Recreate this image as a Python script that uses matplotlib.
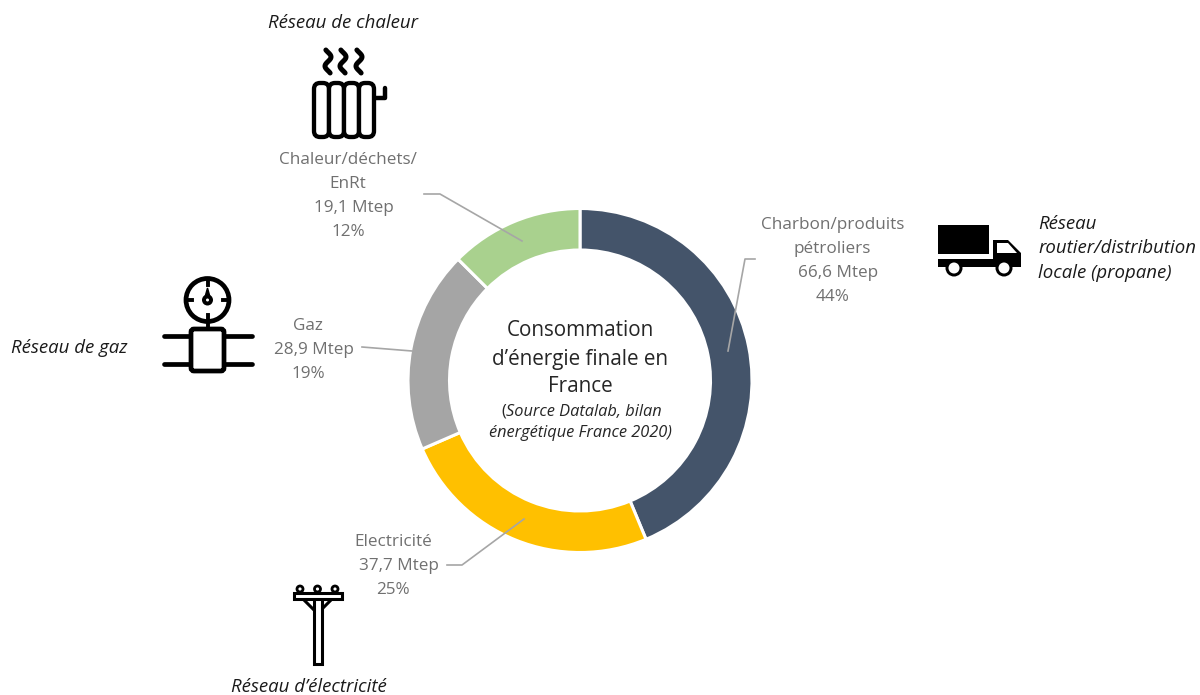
#!/usr/bin/env python3
"""
donut of final energy consumption in France, with one network icon per source
"""

import matplotlib
matplotlib.use("Agg")
import matplotlib.pyplot as plt
import numpy as np
from matplotlib.patches import Circle, Polygon, Rectangle, FancyBboxPatch

sources = ["Charbon/produits\npétroliers", "Electricité", "Gaz", "Chaleur/déchets/\nEnRt"]
mtep = [66.6, 37.7, 28.9, 19.1]
mtep_labels = ["66,6 Mtep", "37,7 Mtep", "28,9 Mtep", "19,1 Mtep"]
shares = ["44%", "25%", "19%", "12%"]
colors = ["#44546A", "#FFC000", "#A5A5A5", "#A9D18E"]

WIDTH, HEIGHT = 1200, 695
INK = "black"

plt.rcParams["font.family"] = ["Open Sans", "DejaVu Sans"]


def rounded(ax, x0, y0, x1, y1, r, lw=3.5, fc="white", z=3):
    ax.add_patch(FancyBboxPatch((x0 + r, y0 + r), x1 - x0 - 2*r, y1 - y0 - 2*r,
                                boxstyle=f"round,pad={r},rounding_size={r}",
                                fc=fc, ec=INK, lw=lw, zorder=z))


def draw_radiator(ax):
    # steam
    t = np.linspace(0, 1, 40)
    for x in (328, 343, 359):
        ax.plot(x + 3*np.sin(t*2.5*np.pi - .25*np.pi), 50 + t*23, color=INK, lw=3.6,
                solid_capstyle="round")
    # pipe stub
    ax.plot([372, 385, 385], [98, 98, 88], color=INK, lw=3.2, solid_joinstyle="round",
            solid_capstyle="round")
    # fins
    for x in (314, 329, 344, 359):
        rounded(ax, x, 83, x + 15, 137, 6, lw=3.1)


def draw_gauge(ax):
    ax.add_patch(Circle((207.5, 300), 21.5, fc="white", ec=INK, lw=3.4))
    for x0, y0, x1, y1 in [(207.5, 279, 207.5, 285), (207.5, 315, 207.5, 328),
                           (186, 300, 192, 300), (223, 300, 229, 300)]:
        ax.plot([x0, x1], [y0, y1], color=INK, lw=2.8)
    ax.add_patch(Circle((207.5, 300), 5.5, fc=INK, ec="none", zorder=3))
    ax.add_patch(Polygon([(205, 297), (207.5, 288), (210, 297)], fc=INK, ec=INK, lw=1, zorder=3))
    ax.add_patch(Circle((207.5, 300), 1.5, fc="white", ec="none", zorder=4))
    for y in (336, 364):
        ax.plot([164, 252], [y, y], color=INK, lw=3.4, solid_capstyle="round")
    rounded(ax, 191, 329, 224, 371, 3, lw=3.4)


def draw_truck(ax):
    ax.add_patch(Rectangle((938, 225), 51, 29, fc=INK, ec="none"))
    ax.add_patch(Rectangle((938, 259), 60, 8, fc=INK, ec="none"))
    ax.add_patch(Polygon([(993, 240), (1008, 240), (1021, 253), (1021, 267), (993, 267)],
                         fc=INK, ec="none"))
    ax.add_patch(Polygon([(997, 243), (1008, 243), (1017, 253), (997, 253)], fc="white", ec="none"))
    for x in (954, 1004):
        ax.add_patch(Circle((x, 268), 8.5, fc=INK, ec="none", zorder=3))
        ax.add_patch(Circle((x, 268), 5.5, fc="white", ec="none", zorder=4))


def draw_pole(ax):
    for x in (300, 317.5, 335):
        ax.add_patch(Circle((x, 589), 3, fc="white", ec=INK, lw=2))
    for x0, x1 in [(302, 314), (333, 321)]:
        ax.plot([x0, x1], [598, 610], color=INK, lw=2.2)
    ax.add_patch(Rectangle((314, 597), 7.5, 66.5, fc="white", ec=INK, lw=2.2, zorder=3))
    ax.add_patch(Rectangle((294, 592.5), 47.5, 6, fc="white", ec=INK, lw=2.2, zorder=3))


fig = plt.figure(figsize=(WIDTH/100, HEIGHT/100), dpi=100)

# overlay in pixel coordinates for labels, leaders and icons
ax = fig.add_axes([0, 0, 1, 1])
ax.set_xlim(0, WIDTH)
ax.set_ylim(HEIGHT, 0)
ax.axis("off")

# donut
cx, cy, outer = 580, 380.5, 172
pie_ax = fig.add_axes([(cx - outer)/WIDTH, 1 - (cy + outer)/HEIGHT, 2*outer/WIDTH, 2*outer/HEIGHT])
pie_ax.pie(mtep, colors=colors, startangle=90, counterclock=False, radius=1,
           wedgeprops={"width": 41.5/outer, "edgecolor": "white", "linewidth": 2.2})
pie_ax.set_xlim(-1, 1)
pie_ax.set_ylim(-1, 1)
pie_ax.set_zorder(1)
ax.set_zorder(2)
ax.patch.set_alpha(0)

# leader lines
leaders = [([755, 745, 728], [259, 259, 351]),
           ([447, 462, 524], [565, 565, 519]),
           ([362, 412], [347, 351]),
           ([424, 440, 522], [194, 194, 241])]
for xs, ys in leaders:
    ax.plot(xs, ys, color="#A6A6A6", lw=1.2)

# source labels, one text per line; the Mtep line sits a little right of the others
label_pos = [(832.5, 225), (393, 542), (308, 326), (348, 160)]
label_lines = [s.split("\n") + [m, p] for s, m, p in zip(sources, mtep_labels, shares)]
for (x, y), lines in zip(label_pos, label_lines):
    for i, line in enumerate(lines):
        shift = 6 if "Mtep" in line else 0
        ax.text(x + shift, y + i*24, line, ha="center", va="center", fontsize=12.3, color="#707070")

# centre title
for y, line in [(331, "Consommation"), (359, "d’énergie finale en"), (387, "France")]:
    ax.text(580, y, line, ha="center", va="center", fontsize=14.9, color="#262626")
ax.text(501, 412, "(", ha="left", va="center", fontsize=11.8, color="#262626")
ax.text(506, 412, "Source Datalab, bilan", ha="left", va="center", fontsize=11.8,
        style="italic", color="#262626")
ax.text(580, 433, "énergétique France 2020)", ha="center", va="center", fontsize=11.8,
        style="italic", color="#262626")

# network names
name_style = dict(va="center", fontsize=13.4, style="italic", color="#1a1a1a")
ax.text(343, 23, "Réseau de chaleur", ha="center", **name_style)
ax.text(69, 348, "Réseau de gaz", ha="center", **name_style)
ax.text(309, 687, "Réseau d’électricité", ha="center", **name_style)
for y, line in [(224, "Réseau"), (248, "routier/distribution"), (273, "locale (propane)")]:
    ax.text(1038, y, line, ha="left", **name_style)

draw_radiator(ax)
draw_gauge(ax)
draw_truck(ax)
draw_pole(ax)

plt.savefig("out.png", dpi=100)
